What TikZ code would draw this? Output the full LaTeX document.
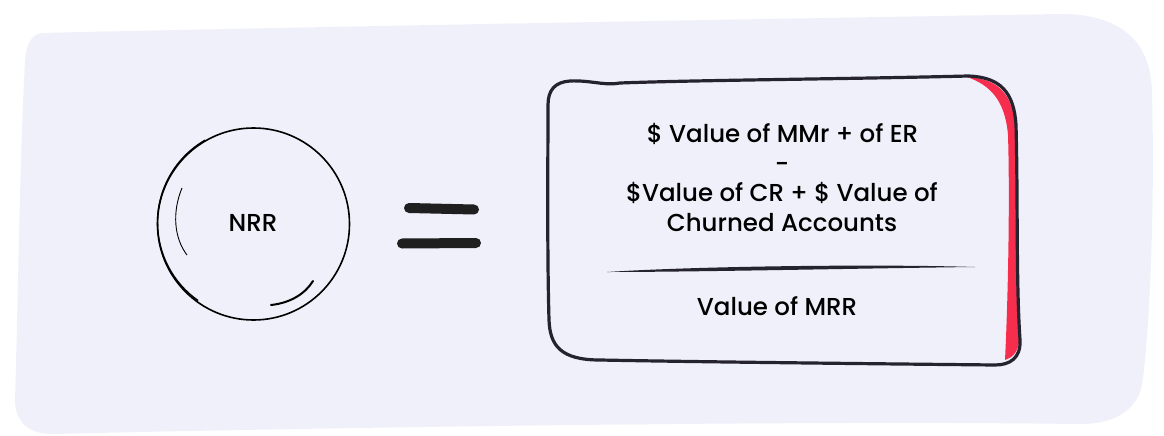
\documentclass[tikz,border=0pt]{standalone}
\usepackage{fontspec}
\setmainfont{Poppins}[UprightFont=* Medium]
\definecolor{bg}{HTML}{F0F0FA}
\definecolor{ink}{HTML}{25232E}
\definecolor{accent}{HTML}{F72D4E}
\begin{document}
\begin{tikzpicture}[x=1pt,y=-1pt,
  boxline/.style={draw=ink,line width=3.2pt,line join=round},
  formula/.style={anchor=base,font=\fontsize{24.5}{28}\selectfont,text=black,inner sep=0pt},
  bar/.style={line width=10pt,line cap=round,draw=black!88}]
\useasboundingbox (0,0) rectangle (1164,436);
\fill[white] (0,0) rectangle (1164,436);
% background blob
\fill[bg] (42,33) .. controls (250,28) and (700,20) .. (1060,14)
  .. controls (1125,14) and (1152,45) .. (1152,95)
  .. controls (1155,200) and (1150,330) .. (1142,385)
  .. controls (1136,412) and (1112,425) .. (1076,424)
  .. controls (800,420) and (300,428) .. (52,434)
  .. controls (27,434) and (15,420) .. (15,400)
  .. controls (18,300) and (20,150) .. (25,62)
  .. controls (26,44) and (32,34) .. (42,33) -- cycle;
% circle
\node[draw=black,line width=1.6pt,circle,minimum size=192pt,inner sep=0pt] (nrrc) at (253.5,224) {};
\draw[line width=1.4pt] (nrrc.120) arc[start angle=120,end angle=235,radius=95.2pt];
\node[anchor=base,font=\fontsize{24.5}{28}\selectfont,inner sep=0pt] (nrr) at (253,231.5) {NRR};
\draw[line width=0.9pt] (182,188) .. controls (172,212) and (174,238) .. (187,255);
\draw[line width=2pt,line cap=round] (271,305) .. controls (290,303) and (305,294) .. (313,281);
% equals
\coordinate (e1a) at (409,208); \coordinate (e1b) at (474,209.5);
\coordinate (e2a) at (402,243.5); \coordinate (e2b) at (476,243);
\draw[bar] (e1a) -- (e1b);
\draw[bar] (e2a) -- (e2b);
% red accent
\fill[accent] (967,77) .. controls (1000,79) and (1013,95) .. (1016,130)
  -- (1019,342) .. controls (1018,352) and (1012,358) .. (1005,360)
  .. controls (1008,300) and (1010,200) .. (1008,135)
  .. controls (1005,100) and (990,85) .. (967,77) -- cycle;
% box
\draw[boxline] (570,81) .. controls (590,80) and (605,86) .. (620,83)
  .. controls (700,80) and (850,79) .. (968,76)
  .. controls (1000,77) and (1014,92) .. (1016,125)
  .. controls (1018,200) and (1016,280) .. (1020,340)
  .. controls (1021,358) and (1010,365) .. (995,365)
  .. controls (900,364) and (700,362) .. (600,360)
  .. controls (560,360) and (550,345) .. (549,320)
  .. controls (547,250) and (548,150) .. (548,105)
  .. controls (548,90) and (555,82) .. (570,81) -- cycle;
% divider
\coordinate (dl) at (607,272); \coordinate (dr) at (975,267);
\fill[ink] (dl) .. controls (700,266) and (880,264) .. (dr)
  .. controls (880,268) and (700,272) .. (dl) -- cycle;
% formula text
\node[formula] (l1) at (782.5,142.5) {\$ Value of MMr + of ER};
\node[formula] (l2) at (782,172) {-};
\node[formula] (l3) at (782,201.5) {\$Value of CR + \$ Value of};
\node[formula] (l4) at (782,231) {Churned Accounts};
\node[formula] (l5) at (777,315) {Value of MRR};
\end{tikzpicture}
\end{document}
